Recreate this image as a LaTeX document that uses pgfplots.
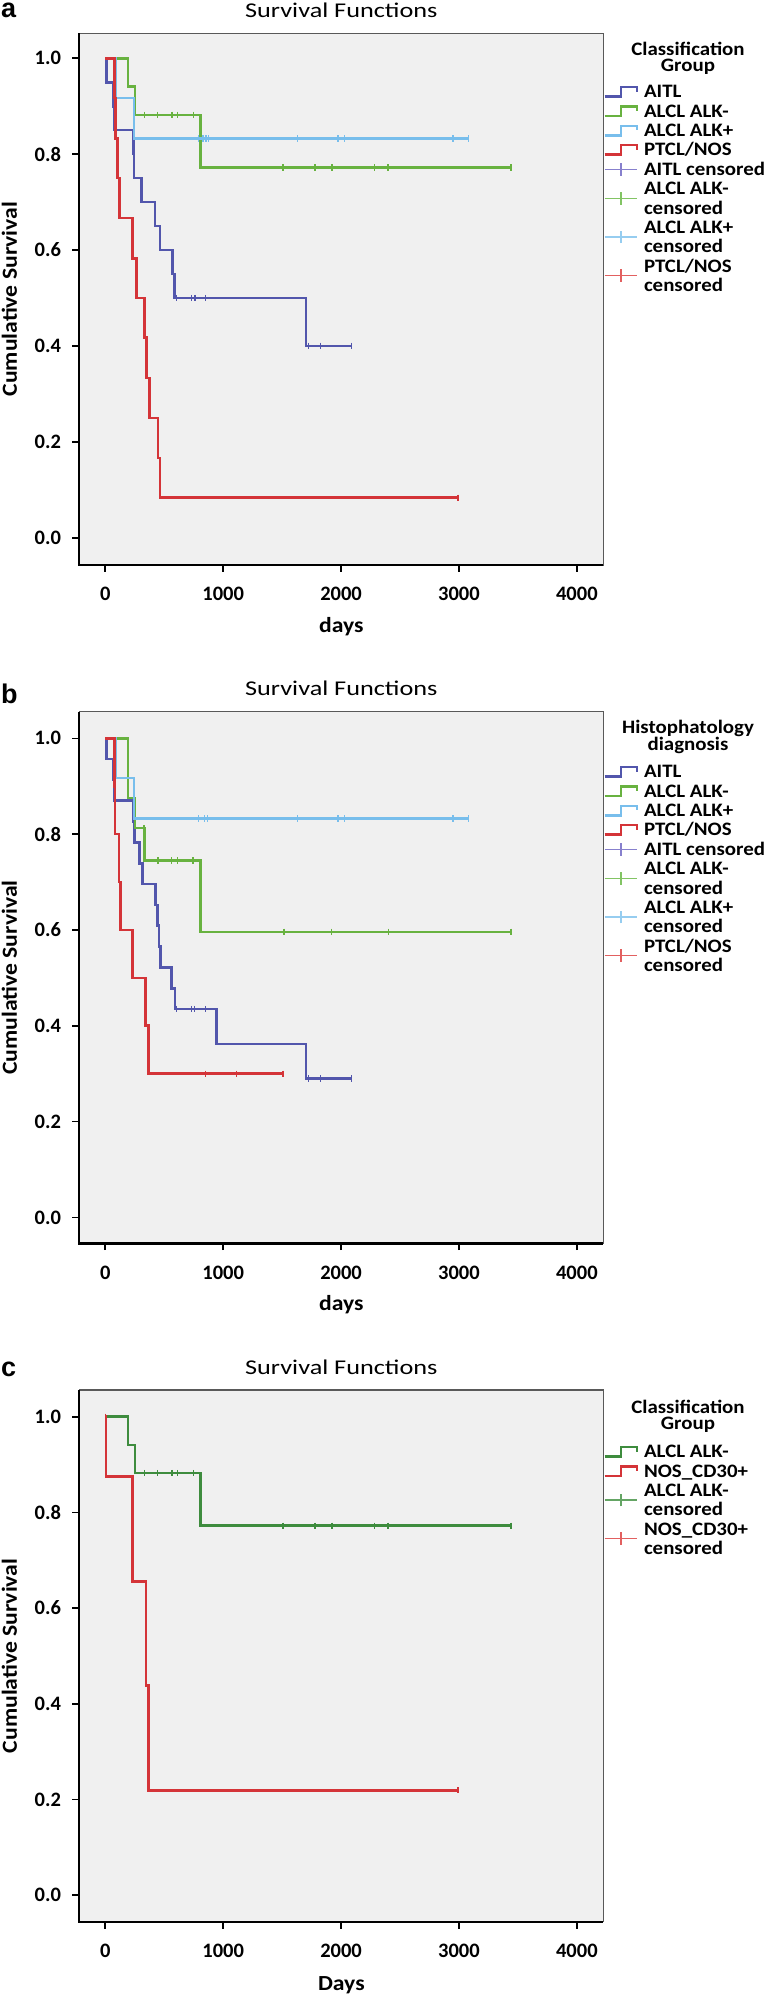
\documentclass[border=0pt]{standalone}
\usepackage{fontspec}
\setmainfont{Carlito}[FakeStretch=1.1]
\newfontfamily\tickfont{Carlito}
\newfontfamily\titlefont{Carlito}[FakeStretch=1.25]
\newfontfamily\letterfont{Liberation Sans}
\usepackage{pgfplots}
\pgfplotsset{compat=1.18}

\definecolor{bgc}{RGB}{240,240,240}
\definecolor{aitl}{RGB}{82,86,172}
\definecolor{alkneg}{RGB}{104,178,64}
\definecolor{alkpos}{RGB}{120,190,236}
\definecolor{ptcl}{RGB}{212,52,56}
\definecolor{greenc}{RGB}{62,140,62}
\definecolor{aitlc}{RGB}{135,128,205}
\definecolor{alknegc}{RGB}{130,196,100}
\definecolor{alkposc}{RGB}{150,205,240}
\definecolor{ptclc}{RGB}{226,96,96}
\definecolor{greencc}{RGB}{100,165,100}

\pgfplotsset{
 kmstep/.style={legend image code/.code={\draw[#1,line width=2.4pt] (0pt,-2.55pt) -- (16.2pt,-2.55pt) -- (16.2pt,6.85pt) -- (32.6pt,6.85pt) -- (32.6pt,2.45pt);}},
 kmcens/.style={legend image code/.code={\draw[#1,line width=1.4pt] (0pt,2.45pt) -- (32.6pt,2.45pt) (16.3pt,-3.85pt) -- (16.3pt,8.75pt);}},
 kmcenstwo/.style={legend image code/.code={\draw[#1,line width=1.4pt,overlay] (0pt,-7.2pt) -- (32.6pt,-7.2pt) (16.3pt,-13.5pt) -- (16.3pt,-0.9pt); \path[draw=none,fill=none] (0pt,0pt) rectangle (32.6pt,0.1pt);}},
 kmblank/.style={legend image code/.code={\path[draw=none,fill=none] (0pt,0pt) rectangle (32.6pt,0.1pt);}},
 kmaxis/.style={
   scale only axis, width=524.1pt, height=531.7pt,
   xmin=-220, xmax=4225,
   xtick={0,1000,2000,3000,4000},
   ytick={0,0.2,0.4,0.6,0.8,1},
   scaled x ticks=false,
   tick align=outside, tick pos=left,
   major tick length=6.8pt,
   every tick/.style={black, line width=1.6pt},
   axis line style={black!65, line width=1.2pt},
   axis background/.style={fill=bgc},
   extra description/.code={\draw[black, line width=2.2pt] (0,1) -- (0,0) -- (1,0);},
   ticklabel style={font=\tickfont\bfseries\fontsize{20.5}{20.5}\selectfont, inner sep=0pt},
   xticklabel style={anchor=north, yshift=-15.2pt, /pgf/number format/1000 sep={}},
   yticklabel style={anchor=east, xshift=-11.3pt, /pgf/number format/.cd, fixed, fixed zerofill, precision=1},
   /pgf/number format/assume math mode=true,
   every axis title/.style={at={(0.5,1)}, anchor=base, yshift=15.8pt, font=\titlefont\fontsize{21}{21}\selectfont},
   title={Survival Functions},
   ylabel={Cumulative Survival},
   ylabel style={at={(axis description cs:-0.1332,0.5)}, anchor=center, font=\bfseries\fontsize{21.5}{21.5}\selectfont},
   xlabel style={at={(axis description cs:0.5,-0.127)}, anchor=base, font=\bfseries\fontsize{21.5}{21.5}\selectfont},
   legend cell align=left,
   legend style={draw=none, fill=none, anchor=north west, inner sep=0pt, outer sep=0pt, row sep=1.03pt, column sep=5.6pt,
     nodes={inner sep=0pt, text height=12.8pt, text depth=5.5pt}, font=\bfseries\fontsize{19}{18.3}\selectfont},
 },
 kmline/.style={const plot, line width=2.6pt, color=#1, forget plot},
 kmcen/.style={only marks, mark=|, mark size=3.2pt, color=#1, mark options={line width=1.4pt, solid}, forget plot},
}

\begin{document}
\begin{tikzpicture}
\useasboundingbox (0,0) rectangle (768pt,-1997pt);

% ---------------- panel a ----------------
\begin{axis}[kmaxis, at={(79.3pt,-33.3pt)}, anchor=north west, ymin=-0.0569, ymax=1.0521, xlabel={days},
  legend style={at={(axis description cs:1,0.9028)}}]
\addlegendimage{kmstep=aitl}\addlegendentry{AITL}
\addlegendimage{kmstep=alkneg}\addlegendentry{ALCL ALK-}
\addlegendimage{kmstep=alkpos}\addlegendentry{ALCL ALK+}
\addlegendimage{kmstep=ptcl}\addlegendentry{PTCL/NOS}
\addlegendimage{kmcens=aitlc}\addlegendentry{AITL censored}
\addlegendimage{kmcenstwo=alknegc}\addlegendentry{ALCL ALK-}
\addlegendimage{kmblank}\addlegendentry{censored}
\addlegendimage{kmcenstwo=alkposc}\addlegendentry{ALCL ALK+}
\addlegendimage{kmblank}\addlegendentry{censored}
\addlegendimage{kmcenstwo=ptclc}\addlegendentry{PTCL/NOS}
\addlegendimage{kmblank}\addlegendentry{censored}
\addplot[kmline=aitl] coordinates {(0,1) (9,0.95) (70,0.90) (80,0.85) (239,0.80) (243,0.75) (307,0.70) (421,0.65) (464,0.60) (568,0.55) (588,0.50) (1703,0.40) (2090,0.40)};
\addplot[kmline=alkneg] coordinates {(0,1) (193,0.941) (252,0.882) (809,0.772) (3440,0.772)};
\addplot[kmline=alkpos] coordinates {(0,1) (85,0.917) (244,0.833) (3082,0.833)};
\addplot[kmline=ptcl] coordinates {(0,1) (78,0.917) (86,0.833) (103,0.75) (122,0.667) (229,0.583) (263,0.5) (334,0.417) (350,0.333) (376,0.25) (447,0.1667) (464,0.0833) (2991,0.0833)};
\addplot[kmcen=aitl] coordinates {(605,0.5) (730,0.5) (760,0.5) (851,0.5) (1724,0.4) (1828,0.4) (2090,0.4)};
\addplot[kmcen=alkneg] coordinates {(335,0.882) (442,0.882) (565,0.882) (611,0.882) (750,0.882) (1508,0.772) (1778,0.772) (1924,0.772) (2285,0.772) (2397,0.772) (3440,0.772)};
\addplot[kmcen=alkpos] coordinates {(790,0.833) (830,0.833) (855,0.833) (875,0.833) (1633,0.833) (1974,0.833) (2027,0.833) (2950,0.833) (3082,0.833)};
\addplot[kmcen=ptcl] coordinates {(2991,0.0833)};
\end{axis}
\node[anchor=base west, inner sep=0pt, font=\letterfont\bfseries\fontsize{27}{27}\selectfont] at (1pt,-17.5pt) {a};
\node[anchor=base, inner sep=0pt, font=\bfseries\fontsize{19}{19}\selectfont] at (688pt,-55.5pt) {Classification};
\node[anchor=base, inner sep=0pt, font=\bfseries\fontsize{19}{19}\selectfont] at (688pt,-71.7pt) {Group};

% ---------------- panel b ----------------
\begin{axis}[kmaxis, at={(79.3pt,-711.7pt)}, anchor=north west, ymin=-0.0542, ymax=1.0555, xlabel={days},
  legend style={at={(axis description cs:1,0.8998)}}]
\addlegendimage{kmstep=aitl}\addlegendentry{AITL}
\addlegendimage{kmstep=alkneg}\addlegendentry{ALCL ALK-}
\addlegendimage{kmstep=alkpos}\addlegendentry{ALCL ALK+}
\addlegendimage{kmstep=ptcl}\addlegendentry{PTCL/NOS}
\addlegendimage{kmcens=aitlc}\addlegendentry{AITL censored}
\addlegendimage{kmcenstwo=alknegc}\addlegendentry{ALCL ALK-}
\addlegendimage{kmblank}\addlegendentry{censored}
\addlegendimage{kmcenstwo=alkposc}\addlegendentry{ALCL ALK+}
\addlegendimage{kmblank}\addlegendentry{censored}
\addlegendimage{kmcenstwo=ptclc}\addlegendentry{PTCL/NOS}
\addlegendimage{kmblank}\addlegendentry{censored}
\addplot[kmline=aitl] coordinates {(0,1) (9,0.957) (70,0.913) (80,0.870) (241,0.826) (246,0.783) (290,0.739) (314,0.696) (428,0.652) (441,0.609) (455,0.565) (468,0.522) (560,0.478) (590,0.435) (942,0.362) (1703,0.290) (2090,0.290)};
\addplot[kmline=alkneg] coordinates {(0,1) (193,0.875) (252,0.8125) (335,0.745) (809,0.596) (3440,0.596)};
\addplot[kmline=alkpos] coordinates {(0,1) (85,0.917) (244,0.833) (3082,0.833)};
\addplot[kmline=ptcl] coordinates {(0,1) (79,0.9) (84,0.8) (116,0.7) (128,0.6) (229,0.5) (342,0.4) (365,0.3) (1508,0.3)};
\addplot[kmcen=aitl] coordinates {(605,0.435) (730,0.435) (758,0.435) (851,0.435) (1724,0.29) (1828,0.29) (2090,0.29)};
\addplot[kmcen=alkneg] coordinates {(329,0.8125) (447,0.745) (560,0.745) (611,0.745) (746,0.745) (1516,0.596) (1920,0.596) (2401,0.596) (3440,0.596)};
\addplot[kmcen=alkpos] coordinates {(790,0.833) (840,0.833) (865,0.833) (1633,0.833) (1974,0.833) (2030,0.833) (2950,0.833) (3082,0.833)};
\addplot[kmcen=ptcl] coordinates {(852,0.3) (1112,0.3) (1508,0.3)};
\end{axis}
\node[anchor=base west, inner sep=0pt, font=\letterfont\bfseries\fontsize{27}{27}\selectfont] at (1pt,-703.3pt) {b};
\node[anchor=base, inner sep=0pt, font=\bfseries\fontsize{19}{19}\selectfont] at (688pt,-733.9pt) {Histophatology};
\node[anchor=base, inner sep=0pt, font=\bfseries\fontsize{19}{19}\selectfont] at (688pt,-750.1pt) {diagnosis};

% ---------------- panel c ----------------
\begin{axis}[kmaxis, at={(79.3pt,-1390pt)}, anchor=north west, ymin=-0.0558, ymax=1.0558, xlabel={Days},
  xlabel style={at={(axis description cs:0.5,-0.1285)}},
  legend style={at={(axis description cs:1,0.8966)}}]
\addlegendimage{kmstep=greenc}\addlegendentry{ALCL ALK-}
\addlegendimage{kmstep=ptcl}\addlegendentry{NOS\_CD30+}
\addlegendimage{kmcenstwo=greencc}\addlegendentry{ALCL ALK-}
\addlegendimage{kmblank}\addlegendentry{censored}
\addlegendimage{kmcenstwo=ptclc}\addlegendentry{NOS\_CD30+}
\addlegendimage{kmblank}\addlegendentry{censored}
\addplot[kmline=greenc] coordinates {(0,1) (193,0.941) (252,0.882) (809,0.772) (3440,0.772)};
\addplot[kmline=ptcl] coordinates {(0,1) (5,0.875) (229,0.656) (345,0.4375) (368,0.219) (2991,0.219)};
\addplot[kmcen=greenc] coordinates {(335,0.882) (442,0.882) (565,0.882) (611,0.882) (750,0.882) (1508,0.772) (1778,0.772) (1924,0.772) (2285,0.772) (2397,0.772) (3440,0.772)};
\addplot[kmcen=ptcl] coordinates {(3,1) (2991,0.219)};
\end{axis}
\node[anchor=base west, inner sep=0pt, font=\letterfont\bfseries\fontsize{27}{27}\selectfont] at (1pt,-1376pt) {c};
\node[anchor=base, inner sep=0pt, font=\bfseries\fontsize{19}{19}\selectfont] at (688pt,-1413.4pt) {Classification};
\node[anchor=base, inner sep=0pt, font=\bfseries\fontsize{19}{19}\selectfont] at (688pt,-1429.6pt) {Group};
\end{tikzpicture}
\end{document}
